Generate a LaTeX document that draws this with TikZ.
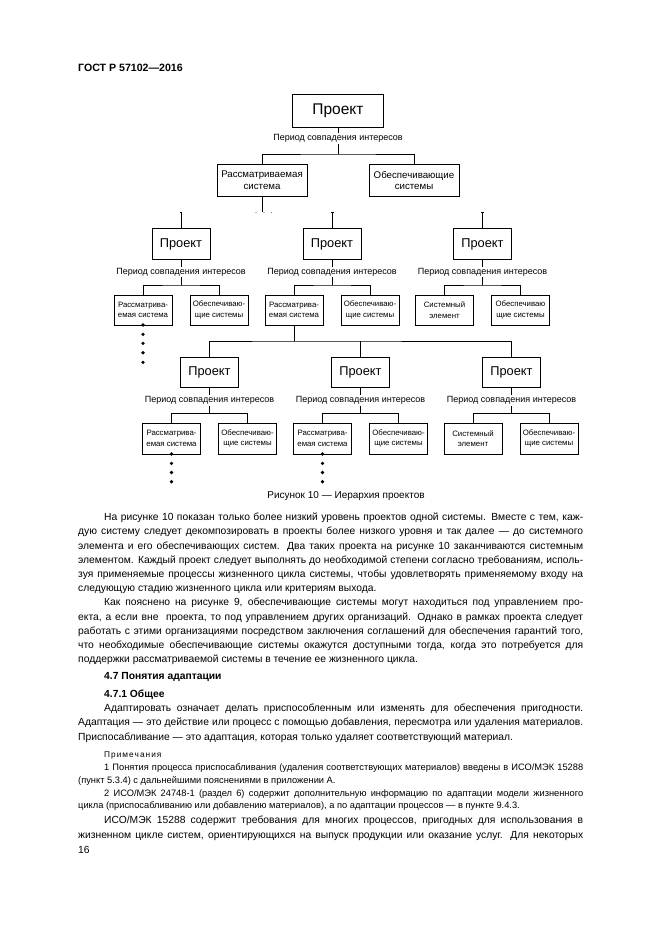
\documentclass[tikz,border=0pt]{standalone}
\usepackage{fontspec}
\setmainfont{Liberation Sans}
\newcommand\fsz[2]{\fontsize{#1}{#2}\selectfont}
\newcommand\bodyfnt{\fontsize{10.3}{12}\selectfont}
\newcommand\notefnt{\fontsize{9.3}{11}\selectfont}
\newcommand\lspc{\hspace{1.0pt}}
\tikzset{
  box/.style={draw, line width=0.8pt, inner sep=0pt, align=center},
  bigbox/.style={box, minimum width=91pt, minimum height=33pt, font=\fsz{15.5}{17}},
  midbox/.style={box, minimum width=90pt, minimum height=32.5pt, font=\fsz{9.7}{11.7}},
  pbox/.style={box, minimum width=58pt, minimum height=31pt, font=\fsz{12.8}{14}},
  sbox/.style={box, minimum width=58pt, minimum height=30pt, font=\fsz{7.8}{10.5}},
  per/.style={font=\fsz{9}{10}, inner sep=0.8pt},
  conn/.style={line width=0.6pt},
  tline/.style={anchor=base west, inner sep=0pt, font=\bodyfnt},
  nline/.style={anchor=base west, inner sep=0pt, font=\notefnt},
}
\newcommand\bodyline[4]{\node[tline] (#1) at #2 {\makebox[#3][s]{#4}};}
\newcommand\noteline[4]{\node[nline] (#1) at #2 {\makebox[#3][s]{#4}};}
\begin{document}
\begin{tikzpicture}[x=1pt,y=-1pt]
\useasboundingbox (0,0) rectangle (661,935);
\fill[white] (0,0) rectangle (661,935);

% header
\node[anchor=base west, inner sep=0pt, font=\fsz{10.6}{12}\bfseries] (hdr) at (78,71) {ГОСТ Р 57102—2016};

% ---------- level 0
\node[bigbox] (P0) at (338,110.5) {Проект};
\node[per] (T0) at (338,138.5) {Период совпадения интересов};
\node[midbox] (S1) at (262,180.5) {Рассматриваемая\\система};
\node[midbox] (B1) at (414,180.5) {Обеспечивающие\\системы};
\coordinate (J0) at (338,154);
\draw[conn] (P0.south) -- (T0.north);
\draw[conn] (T0.south) -- (J0);
\draw[conn] (S1.north) |- (J0) -| (B1.north);

% broken link below
\coordinate (K0) at (262,211.5);
\draw[conn] (S1.south) -- (K0);
\fill[gray] (256,212.5) circle (0.6pt) (264,212.5) circle (0.6pt) (271.5,212.5) circle (0.6pt);

% ---------- level 2
\node[pbox] (P2L) at (181,244) {Проект};
\node[pbox] (P2M) at (332,244) {Проект};
\node[pbox] (P2R) at (482.5,244) {Проект};
\coordinate (K1) at (181,212);
\coordinate (K2) at (332,212);
\coordinate (K3) at (482.5,212);
\draw[conn] (K1) -- (P2L.north);
\draw[conn] (K2) -- (P2M.north);
\draw[conn] (K3) -- (P2R.north);
\draw[conn] (179.5,212) -- (182,212) (330.5,212) -- (333.5,212) (481,212) -- (483.5,212);

\node[per] (T2L) at (181,272) {Период совпадения интересов};
\node[per] (T2M) at (332,272) {Период совпадения интересов};
\node[per] (T2R) at (482.5,272) {Период совпадения интересов};

\node[sbox] (A2L) at (143,310) {Рассматрива-\\емая система};
\node[sbox] (C2L) at (219,310) {Обеспечиваю-\\щие системы};
\node[sbox] (A2M) at (294,310) {Рассматрива-\\емая система};
\node[sbox] (C2M) at (370,310) {Обеспечиваю-\\щие системы};
\node[sbox] (A2R) at (444.5,310) {Системный\\элемент};
\node[sbox] (C2R) at (520.5,310) {Обеспечиваю\\щие системы};

\coordinate (J2L) at (181,285);
\coordinate (J2M) at (332,285);
\coordinate (J2R) at (482.5,285);
\foreach \p in {L,M,R}{
  \draw[conn] (P2\p.south) -- (T2\p.north);
  \draw[conn] (T2\p.south) -- (J2\p);
  \draw[conn] (A2\p.north) |- (J2\p) -| (C2\p.north);
}
\foreach \y in {325,334.3,343.3,352.7,362.3}{\fill (143,\y) circle (1.8pt);}

% ---------- level 3
\node[pbox, minimum height=30pt] (P3L) at (209.5,372) {Проект};
\node[pbox, minimum height=30pt] (P3M) at (360.5,372) {Проект};
\node[pbox, minimum height=30pt] (P3R) at (511.5,372) {Проект};
\coordinate (J2) at (294,341);
\draw[conn] (A2M.south) -- (J2);
\draw[conn] (P3L.north) |- (J2) -| (P3R.north);
\draw[conn] (P3M.north) -- (P3M.north |- J2);

\node[per] (T3L) at (209.5,400.5) {Период совпадения интересов};
\node[per] (T3M) at (360.5,400.5) {Период совпадения интересов};
\node[per] (T3R) at (511.5,400.5) {Период совпадения интересов};

\node[sbox, minimum height=31pt] (A3L) at (171.5,438.5) {Рассматрива-\\емая система};
\node[sbox, minimum height=31pt] (C3L) at (247.5,438.5) {Обеспечиваю-\\щие системы};
\node[sbox, minimum height=31pt] (A3M) at (322.5,438.5) {Рассматрива-\\емая система};
\node[sbox, minimum height=31pt] (C3M) at (398.5,438.5) {Обеспечиваю-\\щие системы};
\node[sbox, minimum height=31pt] (A3R) at (473,438.5) {Системный\\элемент};
\node[sbox, minimum height=31pt] (C3R) at (549,438.5) {Обеспечиваю-\\щие системы};

\coordinate (J3L) at (209.5,413.5);
\coordinate (J3M) at (360.5,413.5);
\coordinate (J3R) at (511.5,413.5);
\foreach \p in {L,M,R}{
  \draw[conn] (P3\p.south) -- (T3\p.north);
  \draw[conn] (T3\p.south) -- (J3\p);
  \draw[conn] (A3\p.north) |- (J3\p) -| (C3\p.north);
}
\foreach \y in {454,463.3,472.5,481.7}{\fill (171.5,\y) circle (1.8pt); \fill (322.5,\y) circle (1.8pt);}

% caption
\node[inner sep=0pt, font=\fsz{10}{12}] (cap) at (346,496.5) {Рисунок 10 — Иерархия проектов};

% ---------- text
\bodyline{a1}{(104,520.6)}{479pt}{На рисунке 10 показан только более низкий уровень проектов одной системы. Вместе с тем, каж-}
\bodyline{a2}{(78,534.8)}{505pt}{дую систему следует декомпозировать в проекты более низкого уровня и так далее — до системного}
\bodyline{a3}{(78,549)}{505pt}{элемента и его обеспечивающих систем. Два таких проекта на рисунке 10 заканчиваются системным}
\bodyline{a4}{(78,563.2)}{505pt}{элементом. Каждый проект следует выполнять до необходимой степени согласно требованиям, исполь-}
\bodyline{a5}{(78,577.4)}{505pt}{зуя применяемые процессы жизненного цикла системы, чтобы удовлетворять применяемому входу на}
\node[tline] (a6) at (78,591.6) {следующую стадию жизненного цикла или критериям выхода.};

\bodyline{b1}{(104,605.8)}{479pt}{Как пояснено на рисунке 9, обеспечивающие системы могут находиться под управлением про-}
\bodyline{b2}{(78,620)}{505pt}{екта, а если вне\ \ проекта, то под управлением других организаций. Однако в рамках проекта следует}
\bodyline{b3}{(78,634.2)}{505pt}{работать с этими организациями посредством заключения соглашений для обеспечения гарантий того,}
\bodyline{b4}{(78,648.4)}{505pt}{что необходимые обеспечивающие системы окажутся доступными тогда, когда это потребуется для}
\node[tline] (b5) at (78,662.6) {поддержки рассматриваемой системы в течение ее жизненного цикла.};

\node[tline, font=\bodyfnt\bfseries] (h1) at (104,679.7) {4.7 Понятия адаптации};
\node[tline, font=\bodyfnt\bfseries] (h2) at (104,697.1) {4.7.1 Общее};

\bodyline{c1}{(104,711.1)}{479pt}{Адаптировать означает делать приспособленным или изменять для обеспечения пригодности.}
\bodyline{c2}{(78,725.6)}{505pt}{Адаптация — это действие или процесс с помощью добавления, пересмотра или удаления материалов.}
\node[tline] (c3) at (78,740.1) {Приспосабливание — это адаптация, которая только удаляет соответствующий материал.};

\node[nline, font=\fsz{8.3}{10}] (n0) at (104,757.5) {П\lspc р\lspc и\lspc м\lspc е\lspc ч\lspc а\lspc н\lspc и\lspc я};
\noteline{n1}{(104,770.7)}{479pt}{1 Понятия процесса приспосабливания (удаления соответствующих материалов) введены в ИСО/МЭК 15288}
\node[nline] (n2) at (78,783.2) {(пункт 5.3.4) с дальнейшими пояснениями в приложении А.};
\noteline{n3}{(104,796.2)}{479pt}{2 ИСО/МЭК 24748-1 (раздел 6) содержит дополнительную информацию по адаптации модели жизненного}
\node[nline] (n4) at (78,808.7) {цикла (приспосабливанию или добавлению материалов), а по адаптации процессов — в пункте 9.4.3.};

\bodyline{e1}{(104,823.6)}{479pt}{ИСО/МЭК 15288 содержит требования для многих процессов, пригодных для использования в}
\bodyline{e2}{(78,838.1)}{505pt}{жизненном цикле систем, ориентирующихся на выпуск продукции или оказание услуг. Для некоторых}
\node[tline] (pg) at (78,853.1) {16};
\end{tikzpicture}
\end{document}
